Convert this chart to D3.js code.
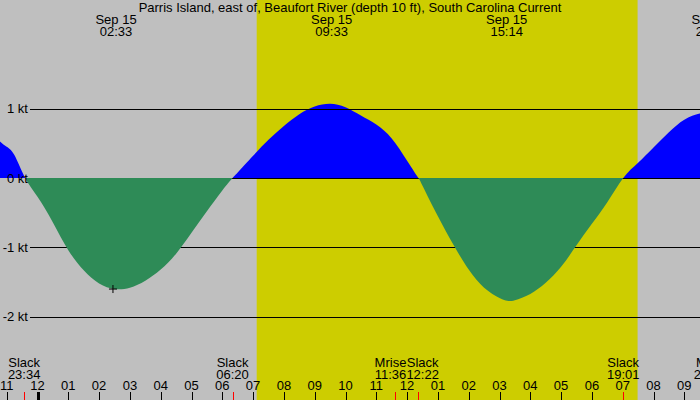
<!DOCTYPE html>
<html>
<head>
<meta charset="utf-8">
<script src="https://cdn.jsdelivr.net/npm/d3@7"></script>
<style>
  body { margin: 0; background: #bfbfbf; }
  svg text { font-family: "Liberation Sans", Arial, sans-serif; font-size: 13px; fill: #000; }
</style>
</head>
<body>
<div id="chart"></div>
<script>
// current speed in knots, hours after midnight Sep 15 (negative = Sep 14)
var hours = [-1.25, -1.0, -0.75, -0.4, 0, 0.5, 1.0, 1.5, 2.0, 2.5, 3.0, 3.5, 4.0, 4.5, 5.0, 5.5, 6.0, 6.333,
             6.5, 7.0, 7.5, 8.0, 8.5, 9.0, 9.5, 10.0, 10.5, 11.0, 11.5, 12.0, 12.367,
             12.5, 13.0, 13.5, 14.0, 14.5, 15.0, 15.25, 15.5, 16.0, 16.5, 17.0, 17.5, 18.0, 18.5, 19.017,
             19.5, 20.0, 20.5, 21.0, 21.5, 21.9];
var knots = [0.54, 0.45, 0.33, 0, -0.27, -0.64, -1.04, -1.33, -1.52, -1.60, -1.58, -1.48, -1.32, -1.09, -0.79, -0.48, -0.18, 0,
             0.08, 0.32, 0.55, 0.75, 0.92, 1.03, 1.07, 1.02, 0.90, 0.77, 0.57, 0.25, 0,
             -0.11, -0.55, -0.96, -1.32, -1.58, -1.73, -1.77, -1.76, -1.67, -1.51, -1.28, -0.97, -0.66, -0.35, 0,
             0.22, 0.44, 0.66, 0.84, 0.93, 0.96];

// max flood / ebb labels along the top
var maxTimes = ["02:33", "09:33", "15:14", "21:54"];
var maxDate = "Sep 15";

// slack and moon events along the bottom
var eventNames = ["Slack", "Slack", "Mrise", "Slack", "Slack", "Mset"];
var eventTimes = ["23:34", "06:20", "11:36", "12:22", "19:01", "21:50"];
var eventDayOffset = [-1, 0, 0, 0, 0, 0];

var sunrise = "07:07", sunset = "19:29";
var kTicks = [1, 0, -1, -2];
var nowMark = { t: "02:27", v: -1.6 };

var title = "Parris Island, east of, Beaufort River (depth 10 ft), South Carolina Current";

var W = 700, H = 400;
function hrs(s, off) { var p = s.split(":"); return (off || 0) * 24 + (+p[0]) + (+p[1]) / 60; }

var x = d3.scaleLinear().domain([0, 1]).range([37.5, 68.3]);
var y = d3.scaleLinear().domain([0, 1]).range([178, 108.6]);

var svg = d3.select("#chart").append("svg").attr("width", W).attr("height", H);

// night / day background
svg.append("rect").attr("width", W).attr("height", H).attr("fill", "#bfbfbf");
svg.append("rect")
  .attr("x", x(hrs(sunrise))).attr("y", 0)
  .attr("width", x(hrs(sunset)) - x(hrs(sunrise))).attr("height", H)
  .attr("fill", "#cdcd00");

var data = hours.map(function (h, i) { return { t: h, v: knots[i] }; });
var area = d3.area()
  .x(function (d) { return x(d.t); })
  .y0(y(0))
  .y1(function (d) { return y(d.v); })
  .curve(d3.curveNatural);

var defs = svg.append("defs");
defs.append("clipPath").attr("id", "above")
  .append("rect").attr("x", 0).attr("y", 0).attr("width", W).attr("height", y(0));
defs.append("clipPath").attr("id", "below")
  .append("rect").attr("x", 0).attr("y", y(0)).attr("width", W).attr("height", H - y(0));

svg.append("path").datum(data).attr("d", area)
  .attr("fill", "#0000ff").attr("clip-path", "url(#above)");

// knot grid lines
svg.selectAll(".grid").data(kTicks).enter().append("line")
  .attr("x1", 30).attr("x2", W)
  .attr("y1", function (d) { return Math.round(y(d)) + 0.5; })
  .attr("y2", function (d) { return Math.round(y(d)) + 0.5; })
  .attr("stroke", "#000").attr("stroke-width", 1);

svg.append("path").datum(data).attr("d", area)
  .attr("fill", "#2e8b57").attr("clip-path", "url(#below)");

svg.selectAll(".klab").data(kTicks).enter().append("text")
  .attr("x", 28).attr("y", function (d) { return y(d) + 4.5; })
  .attr("text-anchor", "end")
  .text(function (d) { return d + " kt"; });

// current time marker
var mx = x(hrs(nowMark.t)), my = y(nowMark.v);
svg.append("path")
  .attr("d", "M" + (mx - 4) + "," + my + "H" + (mx + 4) + "M" + mx + "," + (my - 4) + "V" + (my + 4))
  .attr("stroke", "#000").attr("stroke-width", 1).attr("fill", "none");

// title and max labels
svg.append("text").attr("x", W / 2).attr("y", 12).attr("text-anchor", "middle").text(title);
maxTimes.forEach(function (s) {
  var cx = x(hrs(s));
  svg.append("text").attr("x", cx).attr("y", 24).attr("text-anchor", "middle").text(maxDate);
  svg.append("text").attr("x", cx).attr("y", 36).attr("text-anchor", "middle").text(s);
});

// hour ticks
var hourList = d3.range(-1, 22);
svg.selectAll(".htick").data(hourList).enter().append("line")
  .attr("x1", function (d) { return Math.round(x(d)) + 0.5; })
  .attr("x2", function (d) { return Math.round(x(d)) + 0.5; })
  .attr("y1", 392).attr("y2", 400)
  .attr("stroke", "#000")
  .attr("stroke-width", function (d) { return d === 0 ? 3 : 1; });
svg.selectAll(".hlab").data(hourList).enter().append("text")
  .attr("x", function (d) { return x(d); }).attr("y", 390)
  .attr("text-anchor", "middle")
  .text(function (d) { var h = ((d % 12) + 12) % 12; return d3.format("02")(h === 0 ? 12 : h); });

// event ticks and labels, pushed apart where they would overlap
var ev = eventNames.map(function (n, i) {
  var t = hrs(eventTimes[i], eventDayOffset[i]);
  return { name: n, time: eventTimes[i], t: t, cx: x(t) };
});
svg.selectAll(".etick").data(ev).enter().append("line")
  .attr("x1", function (d) { return Math.round(d.cx) + 0.5; })
  .attr("x2", function (d) { return Math.round(d.cx) + 0.5; })
  .attr("y1", 392).attr("y2", 400)
  .attr("stroke", "#ff0000").attr("stroke-width", 1);

var g = svg.selectAll(".elab").data(ev).enter().append("g");
g.append("text").attr("class", "n").attr("y", 367).attr("text-anchor", "middle").text(function (d) { return d.name; });
g.append("text").attr("class", "t").attr("y", 379).attr("text-anchor", "middle").text(function (d) { return d.time; });
g.each(function (d) {
  var el = d3.select(this);
  d.w = Math.max(el.select(".n").node().getComputedTextLength(), el.select(".t").node().getComputedTextLength());
});
for (var i = 1; i < ev.length; i++) {
  var a = ev[i - 1], b = ev[i];
  var overlap = (a.cx + a.w / 2) - (b.cx - b.w / 2);
  if (overlap > 0) { a.cx -= overlap / 2; b.cx += overlap / 2; }
}
g.selectAll("text").attr("x", function () { return d3.select(this.parentNode).datum().cx; });
</script>
</body>
</html>
